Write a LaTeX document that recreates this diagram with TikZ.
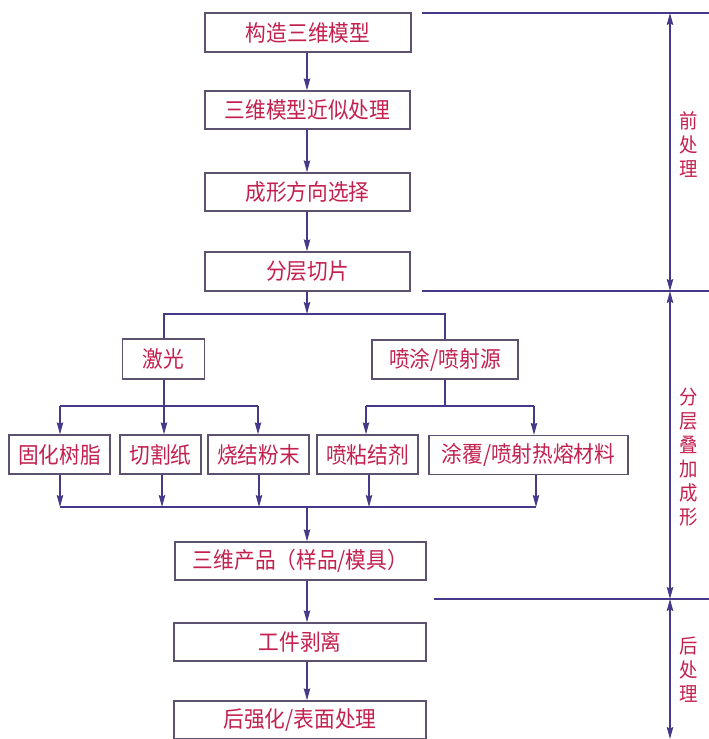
\documentclass[tikz,border=0pt]{standalone}
\usepackage{fontspec}
\newfontfamily\cjk[FakeStretch=0.92]{Noto Sans CJK SC}
\usetikzlibrary{arrows.meta}
\definecolor{txt}{RGB}{196,32,78}
\definecolor{ln}{RGB}{72,56,138}
\definecolor{bd}{RGB}{92,82,112}
\begin{document}
\begin{tikzpicture}[x=1pt,y=-1pt,
 box/.style={draw=bd,line width=1.3pt,fill=white,inner sep=0pt,text=txt,
   font=\cjk\fontsize{22.5}{24}\selectfont,minimum height=39pt},
 conn/.style={draw=ln,line width=1.2pt},
 tip/.tip={Stealth[length=12pt,width=6.5pt,inset=1.5pt]},
 arr/.style={conn,-tip},
 dim/.style={conn,tip-tip},
 side/.style={text=txt,font=\cjk\fontsize{20}{24}\selectfont,align=center,inner sep=0pt}]
\useasboundingbox (0,0) rectangle (709,739);

% main column
\node[box,minimum width=206pt] (b1) at (308,32.5) {构造三维模型};
\node[box,minimum width=205pt,minimum height=38pt] (b2) at (307.5,110) {三维模型近似处理};
\node[box,minimum width=205pt,minimum height=38pt] (b3) at (307.5,192) {成形方向选择};
\node[box,minimum width=205pt] (b4) at (307.5,271.5) {分层切片};

\node[box,minimum width=82pt,minimum height=40pt] (jg) at (163.5,359) {激光};
\node[box,minimum width=146pt] (pt) at (445,359.5) {喷涂/喷射源};

\node[box,minimum width=101pt] (r1) at (59.5,454.5) {固化树脂};
\node[box,minimum width=81pt] (r2) at (160.5,454.5) {切割纸};
\node[box,minimum width=101pt] (r3) at (258.5,454.5) {烧结粉末};
\node[box,minimum width=101pt] (r4) at (367.5,454.5) {喷粘结剂};
\node[box,minimum width=199pt] (r5) at (528.5,455) {涂覆/喷射热熔材料};

\node[box,minimum width=251pt,minimum height=38pt] (p1) at (300.5,561) {三维产品（样品/模具）};
\node[box,minimum width=252pt,minimum height=38pt] (p2) at (300,642) {工件剥离};
\node[box,minimum width=252pt,minimum height=38pt] (p3) at (300,720) {后强化/表面处理};

% connector coordinates
\coordinate (cx) at (307,0);
\coordinate (j1) at (307,314);
\coordinate (s1) at (164,406);
\coordinate (s2) at (445,406);
\coordinate (a1) at (60,406);
\coordinate (a3) at (258,406);
\coordinate (a4) at (366,406);
\coordinate (a5) at (534,406);
\coordinate (m1) at (60,507);
\coordinate (m2) at (162,507);
\coordinate (m3) at (259,507);
\coordinate (m4) at (369,507);
\coordinate (m5) at (536,507);

\draw[arr] (b1.south -| cx) -- (b2.north -| cx);
\draw[arr] (b2.south -| cx) -- (b3.north -| cx);
\draw[arr] (b3.south -| cx) -- (b4.north -| cx);
\draw[arr] (b4.south -| cx) -- (j1);
\draw[conn] (jg.north -| s1) -- (s1 |- j1) -- (s2 |- j1) -- (pt.north -| s2);

\draw[arr] (jg.south -| s1) -- (r2.north -| s1);
\draw[conn] (a1) -- (a3);
\draw[arr] (a1) -- (r1.north -| a1);
\draw[arr] (a3) -- (r3.north -| a3);

\draw[conn] (pt.south -| s2) -- (s2);
\draw[conn] (a4) -- (a5);
\draw[arr] (a4) -- (r4.north -| a4);
\draw[arr] (a5) -- (r5.north -| a5);

\draw[arr] (r1.south -| m1) -- (m1);
\draw[arr] (r2.south -| m2) -- (m2);
\draw[arr] (r3.south -| m3) -- (m3);
\draw[arr] (r4.south -| m4) -- (m4);
\draw[arr] (r5.south -| m5) -- (m5);
\draw[conn] (m1) -- (m5);
\draw[arr] (cx |- m1) -- (p1.north -| cx);
\draw[arr] (p1.south -| cx) -- (p2.north -| cx);
\draw[arr] (p2.south -| cx) -- (p3.north -| cx);

% right side dimension lines
\coordinate (h1a) at (422,13);  \coordinate (h1b) at (709,13);
\coordinate (h2a) at (422,291); \coordinate (h2b) at (709,291);
\coordinate (h3a) at (434,599); \coordinate (h3b) at (709,599);
\coordinate (d0) at (670,13);
\coordinate (d1) at (670,291);
\coordinate (d2) at (670,599);
\coordinate (d3) at (670,739);
\draw[conn] (h1a) -- (h1b);
\draw[conn] (h2a) -- (h2b);
\draw[conn] (h3a) -- (h3b);
\draw[dim] (d0) -- (d1);
\draw[dim] (d1) -- (d2);
\draw[dim] (d2) -- (d3);

\node[side] (lab1) at (689,145) {前\\处\\理};
\node[side] (lab2) at (689,457) {分\\层\\叠\\加\\成\\形};
\node[side] (lab3) at (689,670) {后\\处\\理};
\end{tikzpicture}
\end{document}
